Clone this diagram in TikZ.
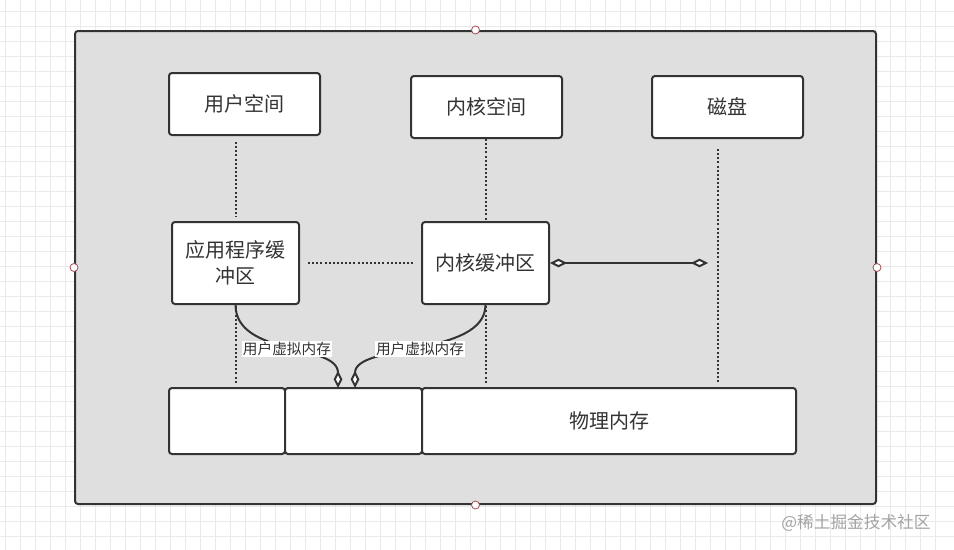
\documentclass[tikz,border=0pt]{standalone}
\usepackage{fontspec}
\setmainfont{Noto Sans CJK SC}
\usetikzlibrary{arrows.meta}

\definecolor{linegray}{HTML}{333333}
\definecolor{panelgray}{HTML}{DFDFDF}
\definecolor{gridgray}{HTML}{EAEAEA}
\definecolor{handlered}{HTML}{A0505A}
\definecolor{markgray}{HTML}{A3A3A3}

\begin{document}
\begin{tikzpicture}[x=0.75pt, y=-0.75pt,
    size/.style 2 args={minimum width=#1*0.75pt, minimum height=#2*0.75pt},
    box/.style={draw=linegray, line width=1.5pt, rounded corners=2.25pt, fill=white,
        text=linegray, font=\fontsize{15}{19.5}\selectfont, align=center, inner sep=0pt},
    dotline/.style={draw=linegray, line width=1.5pt, dash pattern=on 1.5pt off 1.6pt},
    vmem/.style={draw=linegray, line width=1.5pt, -{Diamond[fill=white, length=13pt, width=6.5pt]}},
    vmemlabel/.style={fill=white, text=linegray, font=\fontsize{11}{13}\selectfont, inner sep=1pt},
    handle/.style={draw=handlered, fill=white, line width=0.6pt}]

    % 背景と方眼
    \fill[white] (0,0) rectangle (954,550);
    \useasboundingbox (0,0) rectangle (954,550);
    \foreach \gx in {5.5,20.5,...,950} {
        \draw[gridgray, line width=0.6pt] (\gx,0) -- (\gx,550);
    }
    \foreach \gy in {11.5,26.5,...,548} {
        \draw[gridgray, line width=0.6pt] (0,\gy) -- (954,\gy);
    }

    % 外枠
    \node[draw=linegray, line width=1.5pt, rounded corners=2.25pt, fill=panelgray,
        size={801}{473}] (panel) at (475.5,267.5) {};

    % 上段の箱
    \node[box, size={151}{62}] (user) at (244.5,104) {用户空间};
    \node[box, size={151}{62}] (kspace) at (486.5,107) {内核空间};
    \node[box, size={151}{62}] (disk) at (727.5,107) {磁盘};

    % 缓冲区
    \node[box, size={127}{82}] (app) at (235.5,263) {应用程序缓\\冲区};
    \node[box, size={127}{82}] (kbuf) at (485.5,263) {内核缓冲区};

    % 物理内存
    \node[box, size={116}{66}] (mem1) at (227,421) {};
    \node[box, size={137}{66}] (mem2) at (353.5,421) {};
    \node[box, size={374}{66}] (mem3) at (609,421) {物理内存};

    \coordinate (diskx) at (718,263);
    \coordinate (vmemL) at (338,388);
    \coordinate (vmemR) at (355,388);

    % 点線
    \draw[dotline, shorten <=4.5pt, shorten >=3pt] (app.north |- user.south) -- (app.north);
    \draw[dotline, shorten <=1pt, shorten >=2pt] (app.south) -- (app.south |- mem1.north);
    \draw[dotline] (kbuf.north |- kspace.south) -- (kbuf.north);
    \draw[dotline, shorten <=1pt, shorten >=2pt] (kbuf.south) -- (kbuf.south |- mem3.north);
    \draw[dotline, shorten <=7.5pt, shorten >=2pt] (diskx |- disk.south) -- (diskx |- mem3.north);
    \draw[dotline, shorten <=6pt, shorten >=6pt] (app.east) -- (kbuf.west);

    % 内核缓冲区と磁盘
    \draw[draw=linegray, line width=1.5pt, {Diamond[fill=white, length=12.75pt, width=6.5pt]}-{Diamond[fill=white, length=12.75pt, width=6.5pt]},
        shorten >=7.5pt] (kbuf.east) -- (diskx);

    % 用户虚拟内存
    \draw[vmem] (app.south) .. controls (236,357) and (338,343) .. (vmemL)
        node[vmemlabel, pos=0.5] {用户虚拟内存};
    \draw[vmem] (kbuf.south) .. controls (485,357) and (355,343) .. (vmemR)
        node[vmemlabel, pos=0.5] {用户虚拟内存};

    % 選択ハンドル
    \foreach \hp in {north, south, west, east} {
        \draw[handle] (panel.\hp) circle (3pt);
    }

    % 透かし
    \node[text=markgray, font=\fontsize{12.5}{14}\selectfont, inner sep=0pt] (mark) at (856,523) {@稀土掘金技术社区};

\end{tikzpicture}
\end{document}
